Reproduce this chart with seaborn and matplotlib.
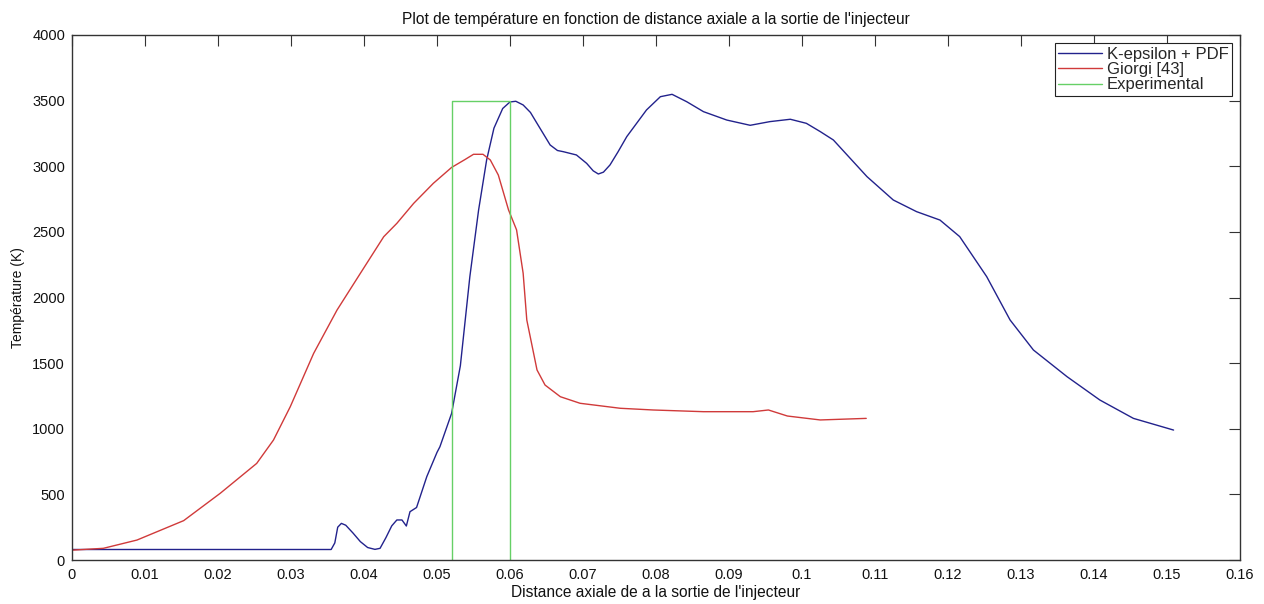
import matplotlib
matplotlib.use("Agg")
import matplotlib.pyplot as plt
import seaborn as sns
import pandas as pd

# ---- data ----
kepsilon_x = [0.0, 0.010, 0.020, 0.030, 0.0355, 0.0360, 0.0364, 0.0369, 0.0375, 0.0385,
              0.0395, 0.0405, 0.0415, 0.0422, 0.0430, 0.0438, 0.0445, 0.0452, 0.0458,
              0.0463, 0.0472, 0.0486, 0.0500, 0.0504, 0.0520, 0.0532, 0.0545, 0.0557,
              0.0568, 0.0578, 0.0590, 0.0600, 0.0608, 0.0618, 0.0628, 0.0637, 0.0655,
              0.0665, 0.0673, 0.0691, 0.0705, 0.0714, 0.0721, 0.0728, 0.0737, 0.0748,
              0.0760, 0.0787, 0.0806, 0.0822, 0.0842, 0.0865, 0.0897, 0.0929, 0.0956,
              0.0984, 0.1006, 0.1025, 0.1043, 0.1089, 0.1125, 0.1157, 0.1189, 0.1216,
              0.1253, 0.1285, 0.1317, 0.1363, 0.1408, 0.1454, 0.1509]
kepsilon_y = [80, 80, 80, 80, 80, 130, 250, 279, 265, 205,
              140, 95, 81, 89, 170, 260, 305, 305, 259,
              368, 400, 635, 820, 863, 1117, 1480, 2159, 2667,
              3048, 3290, 3440, 3490, 3495, 3467, 3410, 3327, 3162,
              3120, 3111, 3086, 3022, 2965, 2941, 2955, 3010, 3110,
              3226, 3429, 3530, 3548, 3492, 3416, 3352, 3312, 3340,
              3358, 3327, 3264, 3200, 2921, 2743, 2654, 2590, 2464,
              2159, 1829, 1600, 1397, 1219, 1079, 990]

giorgi_x = [0.0, 0.0043, 0.0089, 0.0153, 0.0203, 0.0253, 0.0276, 0.0299, 0.0331,
            0.0363, 0.0395, 0.0427, 0.0445, 0.0468, 0.0495, 0.0520, 0.0538, 0.0550,
            0.0563, 0.0573, 0.0584, 0.0598, 0.0609, 0.0618, 0.0623, 0.0637, 0.0648,
            0.0669, 0.0696, 0.0751, 0.0796, 0.0865, 0.0933, 0.0954, 0.0980, 0.1025,
            0.1088]
giorgi_y = [75, 89, 152, 300, 508, 736, 914, 1168, 1574,
            1904, 2184, 2463, 2565, 2717, 2870, 2991, 3050, 3091,
            3091, 3048, 2933, 2667, 2515, 2185, 1829, 1448, 1333,
            1244, 1194, 1156, 1143, 1130, 1130, 1143, 1097, 1067,
            1079]

exp_x = [0.052, 0.052, 0.060, 0.060]
exp_y = [0, 3500, 3500, 0]

series_names = ["K-epsilon + PDF", "Giorgi [43]", "Experimental"]
x_ticks = [0, 0.01, 0.02, 0.03, 0.04, 0.05, 0.06, 0.07, 0.08, 0.09, 0.1,
           0.11, 0.12, 0.13, 0.14, 0.15, 0.16]
x_tick_labels = ["0", "0.01", "0.02", "0.03", "0.04", "0.05", "0.06", "0.07", "0.08",
                 "0.09", "0.1", "0.11", "0.12", "0.13", "0.14", "0.15", "0.16"]
y_ticks = [0, 500, 1000, 1500, 2000, 2500, 3000, 3500, 4000]

title = "Plot de température en fonction de distance axiale a la sortie de l'injecteur"
xlabel = "Distance axiale de a la sortie de l'injecteur"
ylabel = "Température (K)"

# ---- styling ----
sns.set_style("white")
plt.rcParams["font.family"] = ["Liberation Sans", "DejaVu Sans"]

colors = ["#22228c", "#d03a3a", "#66d066"]

fig = plt.figure(figsize=(12.64, 6.04), dpi=100)
ax = fig.add_axes([72 / 1264, 44 / 604, 1168 / 1264, 525 / 604])

df_k = pd.DataFrame({"x": kepsilon_x, "y": kepsilon_y})
df_g = pd.DataFrame({"x": giorgi_x, "y": giorgi_y})
df_e = pd.DataFrame({"x": exp_x, "y": exp_y})

sns.lineplot(data=df_k, x="x", y="y", ax=ax, color=colors[0], linewidth=1.0,
             estimator=None, sort=False, label=series_names[0])
sns.lineplot(data=df_g, x="x", y="y", ax=ax, color=colors[1], linewidth=1.0,
             estimator=None, sort=False, label=series_names[1])
sns.lineplot(data=df_e, x="x", y="y", ax=ax, color=colors[2], linewidth=1.0,
             estimator=None, sort=False, label=series_names[2])

ax.set_xlim(0, 0.16)
ax.set_ylim(0, 4000)
ax.set_xticks(x_ticks)
ax.set_xticklabels(x_tick_labels)
ax.set_yticks(y_ticks)

for s in ax.spines.values():
    s.set_visible(True)
    s.set_color("#333333")
    s.set_linewidth(1.0)

ax.tick_params(axis="both", which="major", direction="in", length=8, width=0.8,
               color="#333333", top=True, right=True, labelsize=10.5,
               labelcolor="#111111")
ax.tick_params(axis="x", pad=6)
ax.tick_params(axis="y", pad=5)

ax.set_title(title, fontsize=11.2, color="#111111", pad=8)
ax.set_xlabel(xlabel, fontsize=11.2, color="#111111", labelpad=2)
ax.set_ylabel(ylabel, fontsize=10, color="#111111", labelpad=5)

leg = ax.legend(loc="upper right", fontsize=12, frameon=True, fancybox=False,
                edgecolor="#222222", framealpha=1, handlelength=2.6,
                borderpad=0.2, labelspacing=0.02, handletextpad=0.3,
                borderaxespad=0.5)
leg.get_frame().set_linewidth(0.8)

fig.savefig("out.png", dpi=100, facecolor="white")
